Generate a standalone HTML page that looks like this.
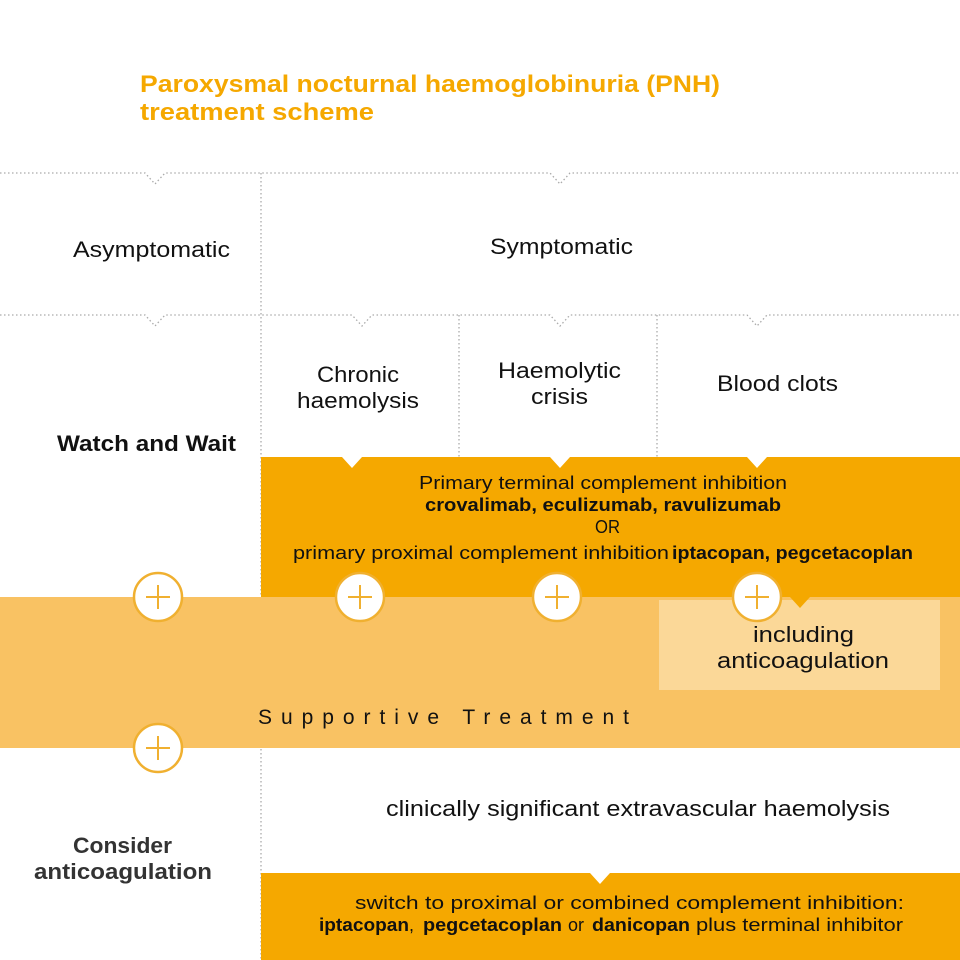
<!DOCTYPE html>
<html><head><meta charset="utf-8"><style>
html,body{margin:0;padding:0;background:#fff}
svg{display:block}
text{font-family:"Liberation Sans",sans-serif}
</style></head><body>
<svg width="960" height="960" viewBox="0 0 960 960" xmlns="http://www.w3.org/2000/svg">
<rect width="960" height="960" fill="#fff"/>
<text x="140" y="92" font-size="24" font-weight="bold" fill="#f5a800" textLength="580" lengthAdjust="spacingAndGlyphs">Paroxysmal nocturnal haemoglobinuria (PNH)</text>
<text x="140" y="120" font-size="24" font-weight="bold" fill="#f5a800" textLength="234" lengthAdjust="spacingAndGlyphs">treatment scheme</text>

<g stroke="#aaa" stroke-width="1.3" stroke-dasharray="1.5 2.5" fill="none">
<path d="M0 173 H145 L155 184 L165 173 H550 L560 184 L570 173 H960"/>
<path d="M0 315 H145 L155 326 L165 315 H352 L362 326 L372 315 H550 L560 326 L570 315 H747 L757 326 L767 315 H960"/>
<path d="M261 173 V960"/>
<path d="M459 315 V457"/>
<path d="M657 315 V457"/>
</g>

<rect x="0" y="597" width="960" height="151" fill="#f9c263"/>
<rect x="659" y="600" width="281" height="90" fill="#fbd898"/>
<path d="M261 457 H342 L352 468 L362 457 H550 L560 468 L570 457 H747 L757 468 L767 457 H960 V597 H261 Z" fill="#f5a800"/>
<path d="M790 597 L800 608 L810 597 Z" fill="#f5a800"/>
<path d="M261 873 H590 L600 884 L610 873 H960 V960 H261 Z" fill="#f5a800"/>

<g fill="#fff" stroke="#f0b030" stroke-width="2.5">
<circle cx="158" cy="597" r="24"/><circle cx="360" cy="597" r="24"/><circle cx="557" cy="597" r="24"/><circle cx="757" cy="597" r="24"/><circle cx="158" cy="748" r="24"/>
</g>
<g stroke="#f0b030" stroke-width="2">
<path d="M146 597 H170 M158 585 V609"/><path d="M348 597 H372 M360 585 V609"/><path d="M545 597 H569 M557 585 V609"/><path d="M745 597 H769 M757 585 V609"/><path d="M146 748 H170 M158 736 V760"/>
</g>

<g fill="#111" font-size="22">
<text x="73" y="257" textLength="157" lengthAdjust="spacingAndGlyphs">Asymptomatic</text>
<text x="490" y="254" textLength="143" lengthAdjust="spacingAndGlyphs">Symptomatic</text>
<text x="317" y="382" textLength="82" lengthAdjust="spacingAndGlyphs">Chronic</text>
<text x="297" y="408" textLength="122" lengthAdjust="spacingAndGlyphs">haemolysis</text>
<text x="498" y="378" textLength="123" lengthAdjust="spacingAndGlyphs">Haemolytic</text>
<text x="531" y="404" textLength="57" lengthAdjust="spacingAndGlyphs">crisis</text>
<text x="717" y="391" textLength="121" lengthAdjust="spacingAndGlyphs">Blood clots</text>
<text x="57" y="451" font-weight="bold" textLength="179" lengthAdjust="spacingAndGlyphs">Watch and Wait</text>
<text x="753" y="642" textLength="101" lengthAdjust="spacingAndGlyphs">including</text>
<text x="717" y="668" textLength="172" lengthAdjust="spacingAndGlyphs">anticoagulation</text>
<text x="258" y="724" font-size="21" textLength="371" lengthAdjust="spacing">Supportive Treatment</text>
<text x="386" y="816" textLength="504" lengthAdjust="spacingAndGlyphs">clinically significant extravascular haemolysis</text>
<text x="73" y="853" font-weight="bold" fill="#333" textLength="99" lengthAdjust="spacingAndGlyphs">Consider</text>
<text x="34" y="879" font-weight="bold" fill="#333" textLength="178" lengthAdjust="spacingAndGlyphs">anticoagulation</text>
</g>
<g fill="#111" font-size="18">
<text x="419" y="489" textLength="368" lengthAdjust="spacingAndGlyphs">Primary terminal complement inhibition</text>
<text x="425" y="511" font-weight="bold" textLength="356" lengthAdjust="spacingAndGlyphs">crovalimab, eculizumab, ravulizumab</text>
<text x="595" y="533" textLength="25" lengthAdjust="spacingAndGlyphs">OR</text>
<text x="293" y="559" textLength="376" lengthAdjust="spacingAndGlyphs">primary proximal complement inhibition</text>
<text x="672" y="559" font-weight="bold" textLength="241" lengthAdjust="spacingAndGlyphs">iptacopan, pegcetacoplan</text>
<text x="355" y="909" textLength="549" lengthAdjust="spacingAndGlyphs">switch to proximal or combined complement inhibition:</text>
<text x="319" y="931" font-weight="bold" textLength="90" lengthAdjust="spacingAndGlyphs">iptacopan</text>
<text x="409" y="931">,</text>
<text x="423" y="931" font-weight="bold" textLength="139" lengthAdjust="spacingAndGlyphs">pegcetacoplan</text>
<text x="568" y="931">or</text>
<text x="592" y="931" font-weight="bold" textLength="98" lengthAdjust="spacingAndGlyphs">danicopan</text>
<text x="696" y="931" textLength="207" lengthAdjust="spacingAndGlyphs">plus terminal inhibitor</text>
</g>
</svg>
</body></html>
